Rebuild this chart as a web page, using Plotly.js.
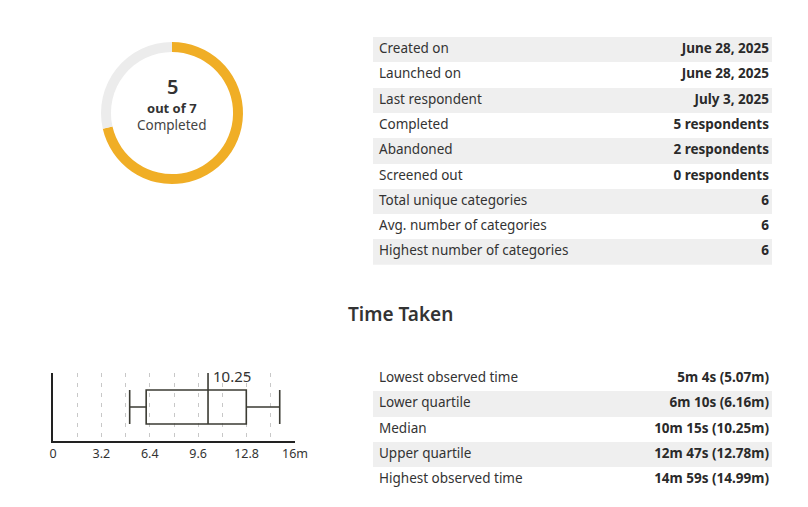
<!DOCTYPE html>
<html>
<head>
<meta charset="utf-8">
<script src="https://cdn.plot.ly/plotly-3.0.1.min.js"></script>
<style>
html,body{margin:0;padding:0;background:#fff;}
#chart{width:808px;height:507px;}
</style>
</head>
<body>
<div id="chart"></div>
<script>
// ---- data ----
const completedCount = 5;
const totalCount = 7;

const statLabels = ["Created on", "Launched on", "Last respondent", "Completed", "Abandoned",
  "Screened out", "Total unique categories", "Avg. number of categories", "Highest number of categories"];
const statValues = ["June 28, 2025", "June 28, 2025", "July 3, 2025", "5 respondents", "2 respondents",
  "0 respondents", "6", "6", "6"];

const timeLabels = ["Lowest observed time", "Lower quartile", "Median", "Upper quartile", "Highest observed time"];
const timeValues = ["5m 4s (5.07m)", "6m 10s (6.16m)", "10m 15s (10.25m)", "12m 47s (12.78m)", "14m 59s (14.99m)"];

const timeMin = 5.07, timeQ1 = 6.16, timeMedian = 10.25, timeQ3 = 12.78, timeMax = 14.99;

const tickVals = [0, 1.6, 3.2, 4.8, 6.4, 8, 9.6, 11.2, 12.8, 14.4, 16];
const tickText = ["0", "", "3.2", "", "6.4", "", "9.6", "", "12.8", "", "16m"];

// ---- styles ----
const W = 808, H = 507;
const FONT = "Noto Sans, sans-serif";
const TXT = "#333333";
const GREY = "#efefef";
const ORANGE = "#f0ae26";
const px = v => v / W;
const py = v => 1 - v / H;
const TABLE_W = 399;     // table width in px (axis units = px)
const TFS = 13.5;

// builds a striped key/value table on its own hidden axis pair
function tableTraces(labels, values, ax, firstGrey) {
  const rows = labels.map((_, i) => i);
  const greyRows = rows.filter(i => (i % 2 === 0) === firstGrey);
  return [
    {type: "bar", orientation: "h", xaxis: "x" + ax, yaxis: "y" + ax,
     y: greyRows, x: greyRows.map(() => TABLE_W), base: 0, width: 1,
     marker: {color: GREY, line: {width: 0}}, hoverinfo: "skip", showlegend: false},
    {type: "scatter", mode: "text", xaxis: "x" + ax, yaxis: "y" + ax,
     y: rows, x: rows.map(() => 6), text: labels, textposition: "middle right",
     textfont: {family: FONT, size: TFS, color: TXT}, hoverinfo: "skip", showlegend: false, cliponaxis: false},
    {type: "scatter", mode: "text", xaxis: "x" + ax, yaxis: "y" + ax,
     y: rows, x: rows.map(() => TABLE_W - 3), text: values, textposition: "middle left",
     textfont: {family: FONT, size: TFS, color: "#2a2a2a", weight: "bold"}, hoverinfo: "skip", showlegend: false, cliponaxis: false}
  ];
}

function hiddenAxis(extra) {
  return Object.assign({showgrid: false, zeroline: false, showline: false, showticklabels: false,
    ticks: "", fixedrange: true}, extra);
}

const donut = {
  type: "pie",
  values: [completedCount, totalCount - completedCount],
  labels: ["Completed", "Not completed"],
  sort: false,
  direction: "clockwise",
  rotation: 0,
  hole: 0.86,
  marker: {colors: [ORANGE, "#ececec"], line: {width: 0}},
  textinfo: "none",
  hoverinfo: "skip",
  showlegend: false,
  domain: {x: [px(101), px(243)], y: [py(184), py(42)]}
};

const box = {
  type: "box",
  orientation: "h",
  y: [0],
  q1: [timeQ1], median: [timeMedian], q3: [timeQ3],
  lowerfence: [timeMin], upperfence: [timeMax],
  width: 1,
  whiskerwidth: 1,
  fillcolor: "rgba(0,0,0,0)",
  line: {color: "#3b3b33", width: 1.6},
  boxpoints: false,
  hoverinfo: "skip",
  showlegend: false,
  xaxis: "x", yaxis: "y"
};

const data = [donut]
  .concat(tableTraces(statLabels, statValues, 2, true))
  .concat(tableTraces(timeLabels, timeValues, 3, false))
  .concat([box]);

const layout = {
  width: W, height: H,
  margin: {l: 0, r: 0, t: 0, b: 0},
  paper_bgcolor: "#ffffff",
  plot_bgcolor: "rgba(0,0,0,0)",
  showlegend: false,
  bargap: 0,
  font: {family: FONT, color: TXT},
  xaxis: {
    domain: [px(53), px(295)],
    range: [0, 16],
    tickvals: tickVals,
    ticktext: tickText,
    showgrid: true,
    gridcolor: "#c8c8c8",
    griddash: "4px,6px",
    gridwidth: 1,
    zeroline: false,
    showline: true,
    linecolor: "#222222",
    linewidth: 2,
    ticks: "",
    tickfont: {family: FONT, size: 12.5, color: TXT},
    fixedrange: true
  },
  yaxis: {
    domain: [py(441), py(373)],
    range: [-1, 1],
    showticklabels: false,
    showgrid: false,
    zeroline: false,
    showline: true,
    linecolor: "#222222",
    linewidth: 2,
    ticks: "",
    fixedrange: true
  },
  xaxis2: hiddenAxis({domain: [px(373), px(373 + TABLE_W)], range: [0, TABLE_W], anchor: "y2"}),
  yaxis2: hiddenAxis({domain: [py(37 + 9 * 25.3), py(37)], range: [8.5, -0.5], anchor: "x2"}),
  xaxis3: hiddenAxis({domain: [px(373), px(373 + TABLE_W)], range: [0, TABLE_W], anchor: "y3"}),
  yaxis3: hiddenAxis({domain: [py(366 + 5 * 25.3), py(366)], range: [4.5, -0.5], anchor: "x3"}),
  shapes: [{
    type: "line", xref: "x", yref: "y",
    x0: timeMedian, x1: timeMedian, y0: 0.5, y1: 1,
    line: {color: "#3b3b33", width: 1.6}
  }],
  annotations: [
    {xref: "paper", yref: "paper", x: px(172), y: py(86.5), xanchor: "center", yanchor: "middle",
     text: String(completedCount), showarrow: false, font: {family: FONT, size: 20, color: TXT, weight: 600}},
    {xref: "paper", yref: "paper", x: px(172), y: py(108), xanchor: "center", yanchor: "middle",
     text: "<b>out of " + totalCount + "</b>", showarrow: false, font: {family: FONT, size: 13, color: TXT}},
    {xref: "paper", yref: "paper", x: px(172), y: py(125), xanchor: "center", yanchor: "middle",
     text: "Completed", showarrow: false, font: {family: FONT, size: 13.5, color: "#444444"}},
    {xref: "paper", yref: "paper", x: px(400), y: py(314), xanchor: "center", yanchor: "middle",
     text: "Time Taken", showarrow: false, font: {family: FONT, size: 19, color: TXT, weight: 600}},
    {xref: "x", yref: "y", x: timeMedian, y: 1, text: String(timeMedian),
     xanchor: "left", yanchor: "middle", xshift: 3, yshift: -3,
     showarrow: false, font: {family: FONT, size: 15, color: TXT}}
  ]
};

Plotly.newPlot("chart", data, layout, {staticPlot: true, displayModeBar: false});
</script>
</body>
</html>
